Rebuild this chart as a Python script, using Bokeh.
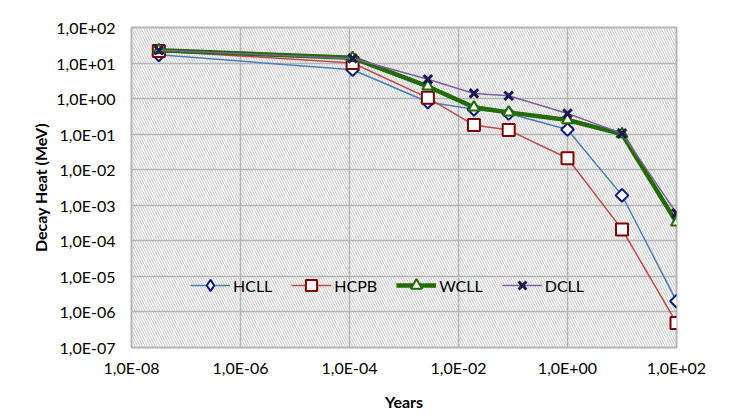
import math
from bokeh.plotting import figure
from bokeh.models import (BoxAnnotation, FixedTicker, CustomJSTickFormatter,
                          Range1d, Legend)
from bokeh.embed import file_html
from bokeh.resources import INLINE

# ---- data ----
years = [3.17e-8, 1.14e-4, 2.74e-3, 1.92e-2, 8.33e-2, 1.0, 10.0, 100.0]
hcll = [17, 6.5, 0.8, 0.5, 0.38, 0.135, 1.9e-3, 2.0e-6]
hcpb = [22, 10, 1.05, 0.18, 0.13, 0.021, 2.1e-4, 4.9e-7]
wcll = [23, 14, 2.2, 0.57, 0.41, 0.25, 0.10, 3.3e-4]
dcll = [23, 13.5, 3.5, 1.4, 1.2, 0.38, 0.105, 6.0e-4]
x_ticks = [1e-8, 1e-6, 1e-4, 1e-2, 1e0, 1e2]
y_ticks = [1e-7, 1e-6, 1e-5, 1e-4, 1e-3, 1e-2, 1e-1, 1e0, 1e1, 1e2]

FONT = "Lato"
GRID = "#b4b4b4"
FS = "16px"

p = figure(width=728, height=416, x_axis_type="log", y_axis_type="log",
           output_backend="svg", toolbar_location=None,
           x_range=Range1d(1e-8, 1e2), y_range=Range1d(1e-7, 1e2),
           min_border_left=131, min_border_right=52,
           min_border_top=27, min_border_bottom=69)

p.outline_line_color = GRID
p.outline_line_width = 2

hatch = BoxAnnotation(fill_alpha=0, line_alpha=0, hatch_pattern="\\",
                      hatch_color="#c6c6c6", hatch_scale=5, hatch_weight=1,
                      level="image")
p.add_layout(hatch)

p.grid.grid_line_color = GRID
p.grid.grid_line_width = 1.5
p.xgrid.ticker = FixedTicker(ticks=x_ticks)
p.ygrid.ticker = FixedTicker(ticks=y_ticks)

fmt = CustomJSTickFormatter(code="""
const e = Math.round(Math.log10(tick));
const s = e < 0 ? '-' : '+';
const a = Math.abs(e);
return '1,0E' + s + (a < 10 ? '0' : '') + a;
""")

for ax, ticks in ((p.xaxis, x_ticks), (p.yaxis, y_ticks)):
    ax.ticker = FixedTicker(ticks=ticks)
    ax.formatter = fmt
    ax.axis_line_color = None
    ax.major_tick_line_color = None
    ax.minor_tick_line_color = None
    ax.major_tick_out = 0
    ax.major_tick_in = 0
    ax.minor_tick_out = 0
    ax.minor_tick_in = 0
    ax.major_label_text_font = FONT
    ax.major_label_text_font_size = FS
    ax.major_label_text_color = "#000000"
    ax.axis_label_text_font = FONT
    ax.axis_label_text_font_style = "bold"
    ax.axis_label_text_font_size = FS
    ax.axis_label_text_color = "#000000"

p.xaxis.axis_label = "Years"
p.yaxis.axis_label = "Decay Heat (MeV)"
p.xaxis.major_label_standoff = 10
p.yaxis.major_label_standoff = 16
p.xaxis.axis_label_standoff = 12
p.yaxis.axis_label_standoff = 3

r1 = p.line(years, hcll, line_color="#4a7ebb", line_width=1.5)
m1 = p.scatter(years, hcll, marker="square", angle=math.pi / 4, size=9,
               line_color="#0a1a80", fill_color="white", line_width=2)
# legend-only diamond marker (renderer hidden in the plot)
m1_leg = p.scatter(years, hcll, marker="diamond", size=15, visible=False,
                   line_color="#0a1a80", fill_color="white", line_width=2)
r2 = p.line(years, hcpb, line_color="#be4b48", line_width=1.5)
m2 = p.scatter(years, hcpb, marker="square", size=12, line_color="#7f0000",
               fill_color="white", line_width=2)
r3 = p.line(years, wcll, line_color="#226b00", line_width=4.5)
m3 = p.scatter(years, wcll, marker="triangle", size=11, line_color="#226b00",
               fill_color="white", line_width=2)
r4 = p.line(years, dcll, line_color="#7d60a0", line_width=1.5)
m4 = p.scatter(years, dcll, marker="x", size=12, line_color="#1a1a50",
               line_width=3)

legend = Legend(items=[("HCLL", [r1, m1_leg]), ("HCPB", [r2, m2]),
                       ("WCLL", [r3, m3]), ("DCLL", [r4, m4])],
                orientation="horizontal", location=(59, 48),
                background_fill_alpha=0, border_line_alpha=0,
                label_text_font=FONT, label_text_font_size=FS,
                label_text_color="#000000", glyph_width=40, glyph_height=28,
                label_standoff=3, spacing=19, padding=0, margin=0)
p.add_layout(legend, "center")

open("out.html", "w").write(file_html(p, INLINE))
